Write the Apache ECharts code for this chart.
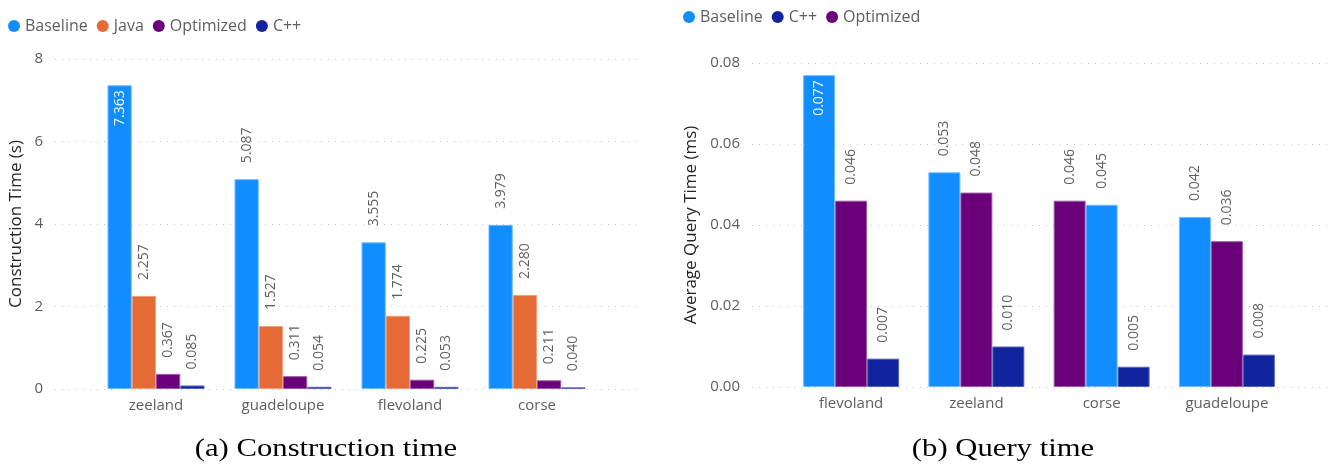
<!DOCTYPE html>
<html>
<head>
<meta charset="utf-8">
<script src="https://cdn.jsdelivr.net/npm/echarts@6/dist/echarts.min.js"></script>
<style>
  html, body { margin: 0; padding: 0; background: #ffffff; }
  #chart { width: 1336px; height: 465px; }
</style>
</head>
<body>
<div id="chart"></div>
<script>
// Construction time per region (seconds)
const constructionCategories = ['zeeland', 'guadeloupe', 'flevoland', 'corse'];
const constructionBaseline = [7.363, 5.087, 3.555, 3.979];
const constructionJava = [2.257, 1.527, 1.774, 2.280];
const constructionOptimized = [0.367, 0.311, 0.225, 0.211];
const constructionCpp = [0.085, 0.054, 0.053, 0.040];
const constructionTicks = [0, 2, 4, 6, 8];

// Average query time per region (milliseconds)
const queryCategories = ['flevoland', 'zeeland', 'corse', 'guadeloupe'];
const queryBaseline = [0.077, 0.053, 0.045, 0.042];
const queryCpp = [0.007, 0.010, 0.005, 0.008];
const queryOptimized = [0.046, 0.048, 0.046, 0.036];
const queryTicks = [0, 0.02, 0.04, 0.06, 0.08];

const COLORS = {
  'Baseline': '#118DFF',
  'Java': '#E66C37',
  'Optimized': '#6B007B',
  'C++': '#12239E'
};
const BORDERS = {
  'Baseline': '#6FBAFF',
  'Java': '#F19C78',
  'Optimized': '#9C5AA6',
  'C++': '#5563C0'
};

const FONT = '"Open Sans", "Noto Sans", sans-serif';
const GREY = '#605E5C';

function labelFor(value, axisMax) {
  // tall bars carry their value inside, near the top, in white
  if (value > axisMax * 0.9) {
    return {
      show: true, position: 'insideTop', rotate: 90, align: 'right', verticalAlign: 'middle',
      distance: 5, color: '#ffffff', fontFamily: FONT, fontSize: 14,
      formatter: p => p.value.toFixed(3)
    };
  }
  return {
    show: true, position: 'top', rotate: 90, align: 'left', verticalAlign: 'middle',
    distance: 16, color: GREY, fontFamily: FONT, fontSize: 14,
    formatter: p => p.value.toFixed(3)
  };
}

function barItem(name, value, axisMax) {
  return {
    value: value,
    itemStyle: { color: COLORS[name], borderColor: BORDERS[name], borderWidth: 1 },
    label: labelFor(value, axisMax)
  };
}

const cMax = constructionTicks[constructionTicks.length - 1];
const qMax = queryTicks[queryTicks.length - 1];

// Left chart series, one per implementation
const constructionSeries = [
  ['Baseline', constructionBaseline],
  ['Java', constructionJava],
  ['Optimized', constructionOptimized],
  ['C++', constructionCpp]
].map(([name, values]) => ({
  name: name,
  type: 'bar',
  xAxisIndex: 1,
  yAxisIndex: 1,
  barGap: '0%',
  barCategoryGap: '23.6%',
  itemStyle: { color: COLORS[name] },
  data: values.map(v => barItem(name, v, cMax))
}));

// Right chart: bars inside each region are ordered from slowest to fastest
const queryByName = { 'Baseline': queryBaseline, 'C++': queryCpp, 'Optimized': queryOptimized };
const queryNames = Object.keys(queryByName);
const ranked = queryCategories.map((_, i) =>
  queryNames
    .map(n => ({ name: n, value: queryByName[n][i] }))
    .sort((a, b) => b.value - a.value)
);
const querySeries = [0, 1, 2].map(rank => ({
  name: 'rank' + rank,
  type: 'bar',
  xAxisIndex: 3,
  yAxisIndex: 3,
  barGap: '0%',
  barCategoryGap: '23.4%',
  data: ranked.map(group => barItem(group[rank].name, group[rank].value, qMax))
}));

// Legend entries for the right chart (empty series on the backdrop grid)
const queryLegendSeries = queryNames.map(n => ({
  name: n, type: 'bar', xAxisIndex: 2, yAxisIndex: 2,
  itemStyle: { color: COLORS[n] }, data: []
}));

function valueAxis(gridIndex, ticks, name, nameGap, visible, fmt) {
  const axis = {
    type: 'value',
    gridIndex: gridIndex,
    min: ticks[0],
    max: ticks[ticks.length - 1],
    interval: ticks[1] - ticks[0],
    show: visible
  };
  if (visible) {
    Object.assign(axis, {
      name: name,
      nameLocation: 'middle',
      nameGap: nameGap,
      nameTextStyle: { fontFamily: FONT, fontSize: 17, color: '#252423' },
      axisLine: { show: false },
      axisTick: { show: false },
      axisLabel: { fontFamily: FONT, fontSize: 15, color: GREY, margin: 12, formatter: fmt },
      splitLine: { show: true, lineStyle: { color: '#C8C6C4', type: [1, 6], width: 1 } }
    });
  }
  return axis;
}

function categoryAxis(gridIndex, cats) {
  return {
    type: 'category',
    gridIndex: gridIndex,
    data: cats,
    axisLine: { show: false },
    axisTick: { show: false },
    axisLabel: { fontFamily: FONT, fontSize: 15, color: GREY, margin: 9 }
  };
}

const legendText = { fontFamily: FONT, fontSize: 16, color: GREY };

const option = {
  animation: false,
  backgroundColor: '#ffffff',
  legend: [
    {
      data: ['Baseline', 'Java', 'Optimized', 'C++'],
      left: 3, top: 13,
      icon: 'circle', itemWidth: 12, itemHeight: 12, itemGap: 9,
      textStyle: legendText
    },
    {
      data: ['Baseline', 'C++', 'Optimized'],
      left: 678, top: 4,
      icon: 'circle', itemWidth: 12, itemHeight: 12, itemGap: 9,
      textStyle: legendText
    }
  ],
  grid: [
    { left: 55, right: 696, top: 59, bottom: 76 },
    { left: 92.5, right: 735.5, top: 59, bottom: 76 },
    { left: 752, right: 7, top: 63, bottom: 78 },
    { left: 788.5, right: 46.5, top: 63, bottom: 78 }
  ],
  xAxis: [
    { type: 'value', gridIndex: 0, show: false },
    categoryAxis(1, constructionCategories),
    { type: 'value', gridIndex: 2, show: false },
    categoryAxis(3, queryCategories)
  ],
  yAxis: [
    valueAxis(0, constructionTicks, 'Construction Time (s)', 30, true, v => String(v)),
    valueAxis(1, constructionTicks, '', 0, false),
    valueAxis(2, queryTicks, 'Average Query Time (ms)', 52, true, v => v.toFixed(2)),
    valueAxis(3, queryTicks, '', 0, false)
  ],
  series: constructionSeries.concat(querySeries, queryLegendSeries),
  graphic: [
    {
      type: 'text', x: 326, y: 449, scaleX: 1.18,
      style: {
        text: '(a) Construction time', font: '26px "Liberation Serif", "DejaVu Serif", serif',
        fill: '#000000', textAlign: 'center', textVerticalAlign: 'middle'
      }
    },
    {
      type: 'text', x: 1003, y: 449, scaleX: 1.18,
      style: {
        text: '(b) Query time', font: '26px "Liberation Serif", "DejaVu Serif", serif',
        fill: '#000000', textAlign: 'center', textVerticalAlign: 'middle'
      }
    }
  ]
};

const chart = echarts.init(document.getElementById('chart'), null, { renderer: 'canvas' });
chart.setOption(option);
</script>
</body>
</html>
